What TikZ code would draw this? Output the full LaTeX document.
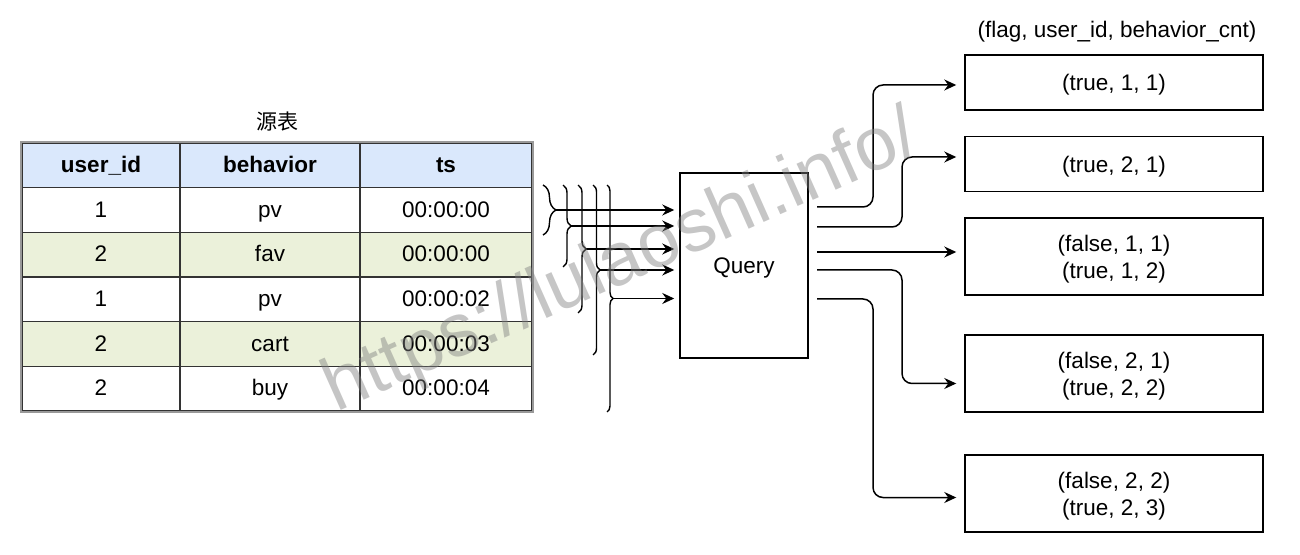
\documentclass[tikz,border=0pt]{standalone}
\usepackage{fontspec}
\setmainfont{Liberation Sans}
\newfontfamily\cjkfont{Noto Sans CJK SC}
\usetikzlibrary{positioning}
\usetikzlibrary{calc}
\usetikzlibrary{arrows.meta}
\usetikzlibrary{decorations.pathreplacing}
\definecolor{headblue}{HTML}{DAE8FC}
\definecolor{rowgreen}{HTML}{EBF1DA}
\definecolor{tableline}{HTML}{333333}
\definecolor{tableframe}{HTML}{999999}
\newcommand{\txtsize}{\fontsize{11.25}{13.5}\selectfont}

\tikzset{
    cell/.style={draw=tableline, line width=0.7pt, minimum height=22.33pt, inner sep=0pt,
        text height=0.716em, text depth=0pt, font=\txtsize},
    outbox/.style={draw, line width=0.75pt, minimum width=149pt, align=center, inner sep=0pt,
        text depth=0pt, font=\txtsize},
    inflow/.style={-{Stealth[length=6pt, width=5.5pt, inset=2pt]}, line width=0.75pt, shorten >=2.5pt},
    flow/.style={-{Stealth[length=6pt, width=5.5pt, inset=2pt]}, line width=0.75pt, shorten >=4pt, rounded corners=5pt},
    bracket/.style={decorate, decoration={brace, amplitude=#1}, line width=0.7pt},
}

\begin{document}
\begin{tikzpicture}[x=0.5pt, y=-0.5pt]
    \useasboundingbox (0,0) rectangle (1300,555);

    % source table
    \node [font=\cjkfont\fontsize{10.5}{12}\selectfont] (title) at (277,122) {源表};
    \foreach \c/\cx/\w/\name in {1/101/79pt/user\_id, 2/270/90pt/behavior, 3/446/86pt/ts}
        \node [cell, fill=headblue, minimum width=\w] (c0-\c) at (\cx,165.33) {\textbf{\name}};
    \foreach \r/\uid/\beh/\ts/\bg in {1/1/pv/00:00:00/white, 2/2/fav/00:00:00/rowgreen,
            3/1/pv/00:00:02/white, 4/2/cart/00:00:03/rowgreen, 5/2/buy/00:00:04/white} {
        \node [cell, fill=\bg, minimum width=79pt] (c\r-1) at (101,{165.33+44.67*\r}) {\uid};
        \node [cell, fill=\bg, minimum width=90pt] (c\r-2) at (270,{165.33+44.67*\r}) {\beh};
        \node [cell, fill=\bg, minimum width=86pt] (c\r-3) at (446,{165.33+44.67*\r}) {\ts};
    }
    \draw [tableframe, line width=1pt] (c0-1.north west) rectangle (c5-3.south east);

    % query
    \node [draw, line width=0.75pt, minimum width=64pt, minimum height=92.5pt, text depth=0pt, font=\txtsize]
        (query) at (744,265.5) {Query};

    % braces into the query
    \foreach \i/\bx/\bot/\amp/\tx in {1/543/235/6.5pt/556, 2/563/267/4pt/571, 3/578/313/4pt/586,
            4/593/355/3.5pt/600, 5/607/412/3pt/613} {
        \draw [bracket=\amp] (\bx,185) -- (\bx,\bot);
        \coordinate (tip\i) at (\tx,{(185+\bot)/2});
        \draw [inflow] (tip\i) -- (tip\i -| query.west);
    }

    % results
    \node [font=\txtsize] (header) at (1117,32) {(flag, user\_id, behavior\_cnt)};
    \node [outbox, minimum height=27.5pt] (out1) at (1114,82.5) {(true, 1, 1)};
    \node [outbox, minimum height=27.5pt] (out2) at (1114,164) {(true, 2, 1)};
    \node [outbox, minimum height=38.5pt] (out3) at (1114,256.5) {(false, 1, 1)\\(true, 1, 2)};
    \node [outbox, minimum height=38.5pt] (out4) at (1114,373.5) {(false, 2, 1)\\(true, 2, 2)};
    \node [outbox, minimum height=38.5pt] (out5) at (1114,493.5) {(false, 2, 2)\\(true, 2, 3)};

    \foreach \i/\sy in {1/207, 2/227, 3/252, 4/270, 5/299}
        \coordinate (src\i) at (817,\sy);
    \draw [flow] (src1) -- (873,207) |- ($(out1.west)+(0,2.5)$);
    \draw [flow] (src2) -- (902,227) |- ($(out2.west)+(0,-7)$);
    \draw [flow] (src3) -- (src3 -| out3.west);
    \draw [flow] (src4) -- (902,270) |- ($(out4.west)+(0,10)$);
    \draw [flow] (src5) -- (873,299) |- ($(out5.west)+(0,4)$);

    % watermark
    \node [rotate=24, inner sep=0pt, text=gray, opacity=0.45, font=\fontsize{37.5}{42}\selectfont]
        (mark) at (622,264) {https://lulaoshi.info/};
\end{tikzpicture}
\end{document}
